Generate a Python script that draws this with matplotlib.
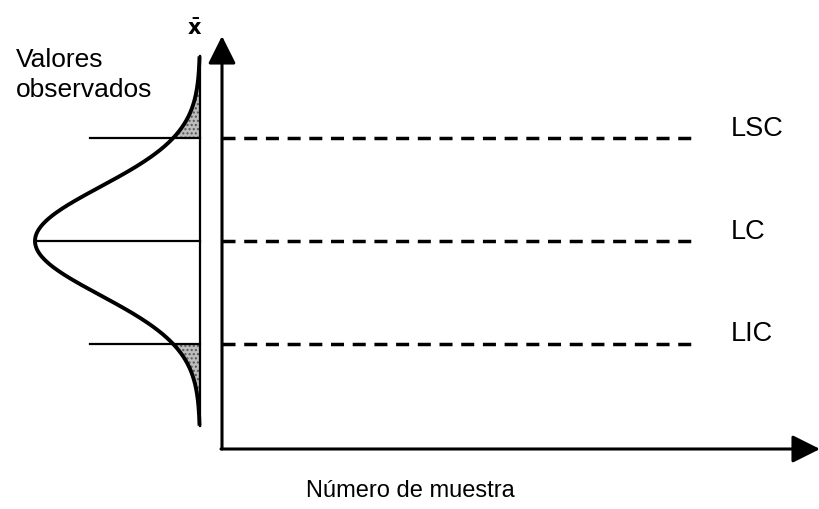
import matplotlib.pyplot as plt
import numpy as np

# control limits in units of sigma of x-bar
limit_values = [3.0, 0.0, -3.0]
limit_labels = ["LSC", "LC", "LIC"]

# distribution drawn on the left (normal shape)
mu = 0.0
sigma_curve = 1.58
curve_extent = 5.4      # how far the tails are drawn
curve_height = 165      # horizontal size of the bell (pixels)

plt.rcParams['font.family'] = ['Liberation Sans', 'DejaVu Sans']

fig = plt.figure(figsize=(8.2, 5.1), dpi=100)
ax = fig.add_axes([0, 0, 1, 1])
px = 34.2  # pixels per sigma unit vertically
ax.set_xlim(0, 820)
ax.set_ylim(-(510 - 242) / px, 242 / px)
ax.axis("off")

def ypix(p):
    # pixel row -> data units
    return (242 - p) / px

base_x = 200
axis_x = 222
axis_y = ypix(450)

# bell curve lying on its side
y = np.linspace(mu - curve_extent, mu + curve_extent, 400)
dens = np.exp(-0.5 * ((y - mu) / sigma_curve) ** 2)
x = base_x - curve_height * dens

ucl, cl, lcl = limit_values
top = y >= ucl
bot = y <= lcl
ax.fill_betweenx(y[top], x[top], base_x, facecolor="#bdbdbd", edgecolor="#555555",
                 hatch="....", linewidth=0)
ax.fill_betweenx(y[bot], x[bot], base_x, facecolor="#bdbdbd", edgecolor="#555555",
                 hatch="....", linewidth=0)
ax.plot(x, y, color="black", lw=2.8, solid_capstyle="butt")
ax.plot([base_x, base_x], [y[0], y[-1]], color="black", lw=1.6)

# horizontal lines across the distribution
ax.plot([90, base_x], [ucl, ucl], color="black", lw=1.6)
ax.plot([x.min(), base_x], [cl, cl], color="black", lw=1.6)
ax.plot([90, base_x], [lcl, lcl], color="black", lw=1.6)

ax.text(195, ypix(29), r"$\mathbf{\bar{x}}$", ha="center", va="center", fontsize=15)

# control chart axes
arrow = dict(arrowstyle="-|>,head_length=1.0,head_width=0.5", lw=2.2, color="black",
             mutation_scale=17, shrinkA=0, shrinkB=0)
ax.annotate("", xy=(axis_x, ypix(37)), xytext=(axis_x, axis_y), arrowprops=arrow)
ax.annotate("", xy=(820, axis_y), xytext=(axis_x - 1, axis_y), arrowprops=arrow)

for v, lab in zip(limit_values, limit_labels):
    ax.plot([axis_x, 695], [v, v], color="black", lw=2.5, linestyle=(0, (3.75, 2.5)))
    ax.text(731, v + 0.3, lab, ha="left", va="center", fontsize=19.5)

ax.text(16, ypix(67), "Valores", ha="left", va="baseline", fontsize=19)
ax.text(16, ypix(97), "observados", ha="left", va="baseline", fontsize=19)
ax.text(410, ypix(491), "Número de muestra", ha="center", va="center", fontsize=17)

fig.savefig("out.png", dpi=100)
